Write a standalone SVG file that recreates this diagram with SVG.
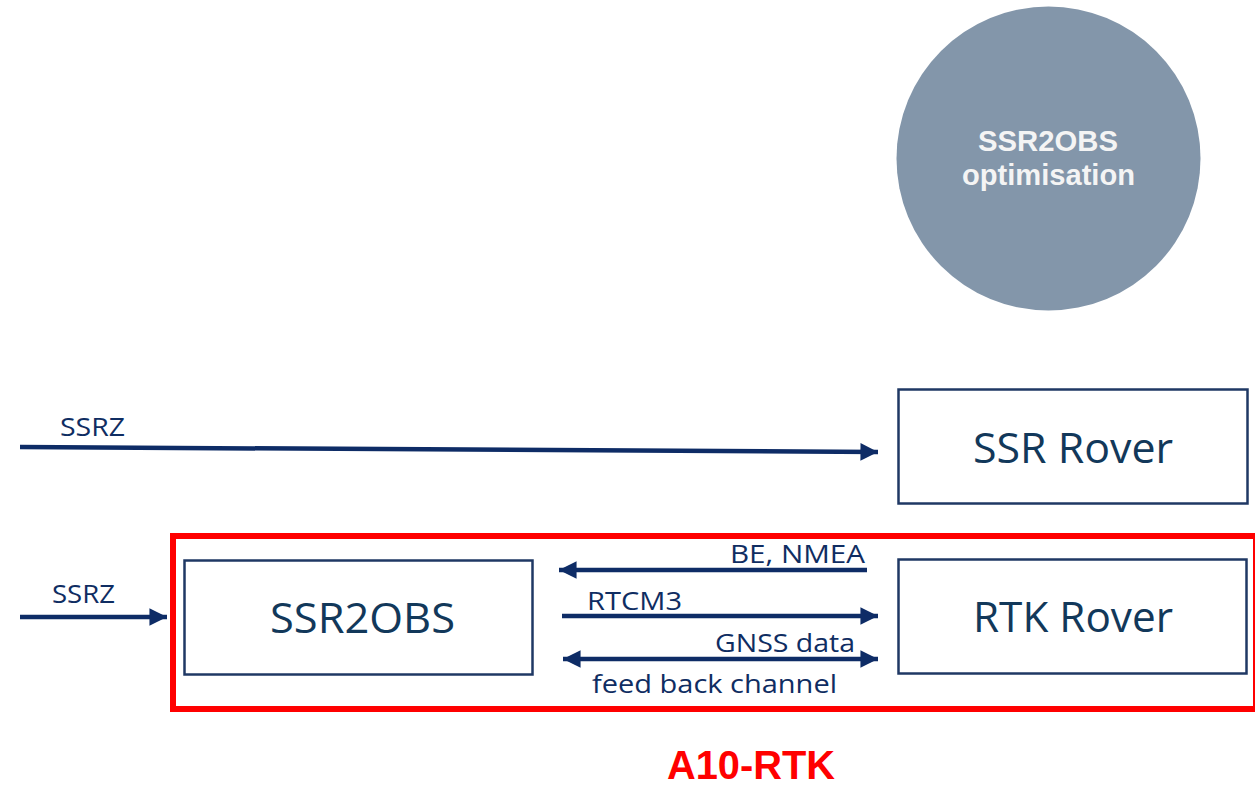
<svg xmlns="http://www.w3.org/2000/svg" width="1255" height="787" viewBox="0 0 1255 787">
  <style>
    .box { fill: #ffffff; stroke: #1f3864; stroke-width: 2.5; }
    .boxtxt { font-family: "Open Sans", "Liberation Sans", sans-serif; font-size: 42px; fill: #12385a; }
    .lbl { font-family: "Open Sans", "Liberation Sans", sans-serif; font-size: 26px; fill: #0f2d62; }
    .wire { stroke: #0e2c66; stroke-width: 4.5; fill: none; }
    .circtxt { font-family: "Liberation Sans", Arial, sans-serif; font-size: 29px; font-weight: bold; fill: #f4f4f4; text-anchor: middle; }
  </style>
  <defs>
    <marker id="head" viewBox="0 0 10 10" refX="10" refY="5" markerWidth="3.9" markerHeight="3.9" markerUnits="strokeWidth" orient="auto-start-reverse">
      <path d="M0,0 L10,5 L0,10 z" fill="#0e2c66"/>
    </marker>
  </defs>
  <rect width="1255" height="787" fill="#ffffff"/>

  <!-- optimisation bubble -->
  <g id="optimisation">
    <circle cx="1048.5" cy="158.5" r="152" fill="#8396aa"/>
    <text class="circtxt" x="1048" y="151" textLength="140" lengthAdjust="spacingAndGlyphs">SSR2OBS</text>
    <text class="circtxt" x="1048.5" y="185" textLength="173" lengthAdjust="spacingAndGlyphs">optimisation</text>
  </g>

  <!-- A10-RTK grouping frame -->
  <g id="a10-rtk">
    <rect x="173" y="536" width="1083" height="173" fill="none" stroke="#ff0000" stroke-width="6"/>
    <text x="751" y="779" text-anchor="middle" font-family="Liberation Sans, Arial, sans-serif" font-size="40" font-weight="bold" fill="#ff0000" textLength="168" lengthAdjust="spacingAndGlyphs">A10-RTK</text>
  </g>

  <g id="ssr-rover">
    <rect class="box" x="898.5" y="389.5" width="349" height="114"/>
    <text class="boxtxt" x="973" y="463" textLength="200" lengthAdjust="spacingAndGlyphs">SSR Rover</text>
  </g>

  <g id="rtk-rover">
    <rect class="box" x="898.5" y="559.5" width="348" height="114"/>
    <text class="boxtxt" x="973" y="632" textLength="200" lengthAdjust="spacingAndGlyphs">RTK Rover</text>
  </g>

  <g id="ssr2obs">
    <rect class="box" x="184.5" y="560.5" width="348" height="114"/>
    <text class="boxtxt" x="270" y="633" textLength="185" lengthAdjust="spacingAndGlyphs">SSR2OBS</text>
  </g>

  <!-- connectors -->
  <g id="connectors">
    <line class="wire" x1="20" y1="447" x2="878" y2="452" marker-end="url(#head)"/>
    <line class="wire" x1="20" y1="617" x2="167" y2="617" marker-end="url(#head)"/>
    <line class="wire" x1="867" y1="570" x2="559" y2="570" marker-end="url(#head)"/>
    <line class="wire" x1="562" y1="616" x2="878" y2="616" marker-end="url(#head)"/>
    <line class="wire" x1="563" y1="659" x2="878" y2="659" marker-start="url(#head)" marker-end="url(#head)"/>

    <text class="lbl" x="60" y="436" textLength="65" lengthAdjust="spacingAndGlyphs">SSRZ</text>
    <text class="lbl" x="52" y="603" textLength="63" lengthAdjust="spacingAndGlyphs">SSRZ</text>
    <text class="lbl" x="730" y="563" textLength="135" lengthAdjust="spacingAndGlyphs">BE, NMEA</text>
    <text class="lbl" x="587" y="610" textLength="95" lengthAdjust="spacingAndGlyphs">RTCM3</text>
    <text class="lbl" x="715" y="652" textLength="140" lengthAdjust="spacingAndGlyphs">GNSS data</text>
    <text class="lbl" x="592" y="693" textLength="245" lengthAdjust="spacingAndGlyphs">feed back channel</text>
  </g>
</svg>
